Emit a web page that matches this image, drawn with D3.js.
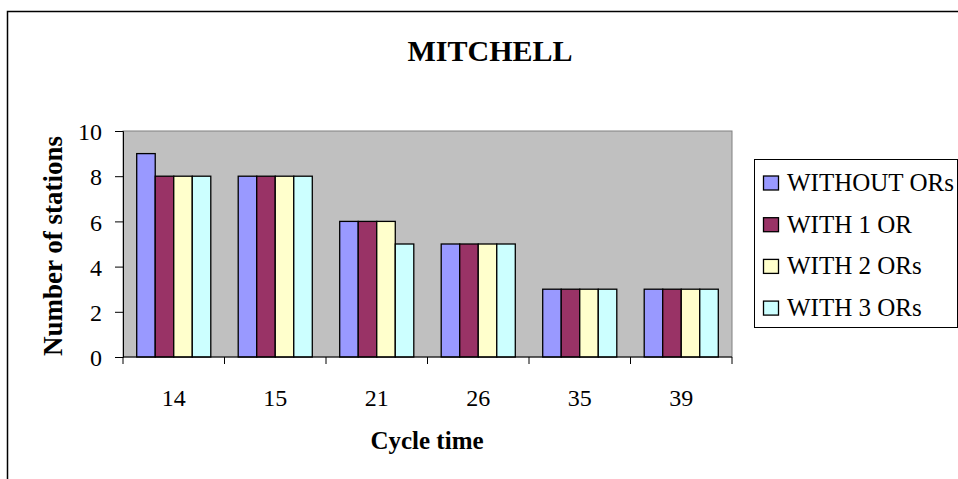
<!DOCTYPE html>
<html>
<head>
<meta charset="utf-8">
<script src="https://cdn.jsdelivr.net/npm/d3@7"></script>
<style>
  body { margin: 0; background: #fff; }
  svg text { font-family: "Liberation Serif", "Times New Roman", serif; fill: #000; }
</style>
</head>
<body>
<div id="chart"></div>
<script>
// chart data
const cycleTimes = ["14", "15", "21", "26", "35", "39"];
const seriesNames = ["WITHOUT ORs", "WITH 1 OR", "WITH 2 ORs", "WITH 3 ORs"];
const withoutORs = [9, 8, 6, 5, 3, 3];
const with1OR = [8, 8, 6, 5, 3, 3];
const with2ORs = [8, 8, 6, 5, 3, 3];
const with3ORs = [8, 8, 5, 5, 3, 3];
const yTicks = [0, 2, 4, 6, 8, 10];

const seriesValues = [withoutORs, with1OR, with2ORs, with3ORs];
const colors = ["#9999FF", "#993366", "#FFFFCC", "#CCFFFF"];

const svgWidth = 958;
const svgHeight = 479;

const plot = { left: 123, top: 131, right: 732, bottom: 357 };

const svg = d3.select("#chart")
  .append("svg")
  .attr("width", svgWidth)
  .attr("height", svgHeight);

// outer chart frame (runs off the page on right and bottom)
svg.append("rect")
  .attr("x", 7.5).attr("y", 11.5)
  .attr("width", 1000).attr("height", 600)
  .attr("fill", "#fff")
  .attr("stroke", "#000")
  .attr("stroke-width", 1.5);

// scales
const x0 = d3.scaleBand()
  .domain(cycleTimes)
  .range([plot.left, plot.right])
  .paddingInner(0)
  .paddingOuter(0);

const x1 = d3.scaleBand()
  .domain(seriesNames)
  .range([0, x0.bandwidth()])
  .paddingOuter(0.74)
  .paddingInner(0);

const y = d3.scaleLinear()
  .domain([0, 10])
  .range([plot.bottom, plot.top]);

// plot area
svg.append("rect")
  .attr("x", plot.left).attr("y", plot.top)
  .attr("width", plot.right - plot.left)
  .attr("height", plot.bottom - plot.top)
  .attr("fill", "#C0C0C0")
  .attr("stroke", "#808080")
  .attr("stroke-width", 1);

// bars
const groups = svg.selectAll("g.group")
  .data(cycleTimes)
  .enter()
  .append("g")
  .attr("class", "group")
  .attr("transform", d => `translate(${x0(d)},0)`);

groups.selectAll("rect")
  .data((d, i) => seriesNames.map((s, j) => ({ s: s, v: seriesValues[j][i], c: colors[j] })))
  .enter()
  .append("rect")
  .attr("x", d => x1(d.s))
  .attr("y", d => y(d.v))
  .attr("width", x1.bandwidth())
  .attr("height", d => y(0) - y(d.v))
  .attr("fill", d => d.c)
  .attr("stroke", "#000")
  .attr("stroke-width", 1.3);

// y axis
const leftAxis = d3.axisLeft(y).tickValues(yTicks).tickSize(8).tickPadding(13);
const yAxis = svg.append("g")
  .attr("transform", `translate(${plot.left},0)`)
  .call(leftAxis);
yAxis.select(".domain").attr("stroke", "#000");
yAxis.selectAll("text")
  .style("font-size", "24px")
  .attr("dy", "0.36em");

// x axis with ticks between categories
const xAxis = svg.append("g")
  .attr("transform", `translate(0,${plot.bottom})`);
xAxis.append("line")
  .attr("x1", plot.left).attr("x2", plot.right)
  .attr("stroke", "#000");
xAxis.selectAll("line.tick")
  .data(cycleTimes.concat(["end"]))
  .enter()
  .append("line")
  .attr("class", "tick")
  .attr("x1", (d, i) => i < cycleTimes.length ? x0(d) : plot.right)
  .attr("x2", (d, i) => i < cycleTimes.length ? x0(d) : plot.right)
  .attr("y1", 0).attr("y2", 7)
  .attr("stroke", "#000");
xAxis.selectAll("text")
  .data(cycleTimes)
  .enter()
  .append("text")
  .attr("x", d => x0(d) + x0.bandwidth() / 2)
  .attr("y", 49)
  .attr("text-anchor", "middle")
  .style("font-size", "24px")
  .text(d => d);

// title and axis labels
svg.append("text")
  .attr("x", 490).attr("y", 61)
  .attr("text-anchor", "middle")
  .style("font-size", "30px")
  .style("font-weight", "bold")
  .text("MITCHELL");

svg.append("text")
  .attr("x", 427).attr("y", 449)
  .attr("text-anchor", "middle")
  .style("font-size", "25px")
  .style("font-weight", "bold")
  .text("Cycle time");

svg.append("text")
  .attr("transform", "translate(62,246) rotate(-90)")
  .attr("text-anchor", "middle")
  .style("font-size", "27px")
  .style("font-weight", "bold")
  .text("Number of stations");

// legend
const legend = svg.append("g").attr("transform", "translate(754,159)");
legend.append("rect")
  .attr("x", 0.5).attr("y", 0.5)
  .attr("width", 203).attr("height", 168)
  .attr("fill", "#fff")
  .attr("stroke", "#000");

const items = legend.selectAll("g.item")
  .data(seriesNames)
  .enter()
  .append("g")
  .attr("class", "item")
  .attr("transform", (d, i) => `translate(9,${24 + i * 41.7})`);

items.append("rect")
  .attr("x", 0.5).attr("y", -7)
  .attr("width", 15).attr("height", 14)
  .attr("fill", (d, i) => colors[i])
  .attr("stroke", "#000")
  .attr("stroke-width", 1.3);

items.append("text")
  .attr("x", 24).attr("y", 8)
  .style("font-size", "25px")
  .text(d => d);
</script>
</body>
</html>
